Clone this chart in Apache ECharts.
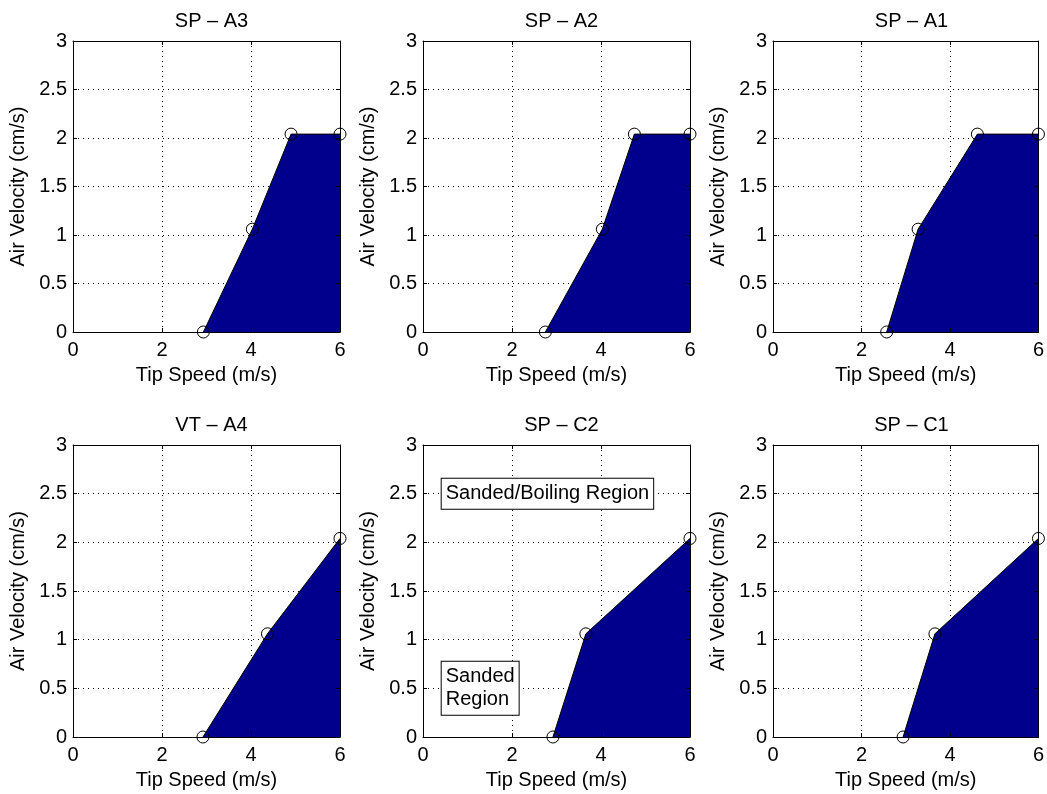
<!DOCTYPE html>
<html>
<head>
<meta charset="utf-8">
<script src="https://cdn.jsdelivr.net/npm/echarts@6/dist/echarts.min.js"></script>
<style>
  html, body { margin: 0; padding: 0; background: #fff; }
  #chart { width: 1047px; height: 794px; }
</style>
</head>
<body>
<div id="chart"></div>
<script>
// Panel titles, in reading order (row by row)
const panelTitles = ['SP \u2013 A3', 'SP \u2013 A2', 'SP \u2013 A1', 'VT \u2013 A4', 'SP \u2013 C2', 'SP \u2013 C1'];

// Boundary points: tip speed (m/s) and air velocity (cm/s)
const spA3Speed = [2.93, 4.03, 4.90, 6.00];
const spA3Air   = [0.00, 1.06, 2.04, 2.04];
const spA2Speed = [2.75, 4.03, 4.75, 6.00];
const spA2Air   = [0.00, 1.06, 2.04, 2.04];
const spA1Speed = [2.57, 3.28, 4.62, 6.00];
const spA1Air   = [0.00, 1.06, 2.04, 2.04];
const vtA4Speed = [2.92, 4.37, 6.00];
const vtA4Air   = [0.00, 1.06, 2.04];
const spC2Speed = [2.92, 3.66, 6.00];
const spC2Air   = [0.00, 1.06, 2.04];
const spC1Speed = [2.94, 3.66, 6.00];
const spC1Air   = [0.00, 1.06, 2.04];

const panelSpeeds = [spA3Speed, spA2Speed, spA1Speed, vtA4Speed, spC2Speed, spC1Speed];
const panelAirs   = [spA3Air, spA2Air, spA1Air, vtA4Air, spC2Air, spC1Air];

// Axis ranges and labels
const xRange = [0, 6], xStep = 2;
const yRange = [0, 3], yStep = 0.5;
const xName = 'Tip Speed (m/s)';
const yName = 'Air Velocity (cm/s)';

// Region annotations on the SP – C2 panel
const annotationPanel = 4;
const annotationTexts = ['Sanded/Boiling Region', 'Sanded\nRegion'];
const annotationX = [0.42, 0.42];
const annotationY = [2.5, 0.5];

const FONT = 'Liberation Sans, Arial, Helvetica, sans-serif';
const FS = 20;
const FILL = '#00008c';

const colLeft = [73, 423, 773];
const rowTop = [41, 445];
const plotW = 267;
const plotH = [291, 292];

const grids = [], xAxes = [], yAxes = [], series = [], titles = [];

panelTitles.forEach((t, i) => {
  const r = Math.floor(i / 3), c = i % 3;
  grids.push({
    left: colLeft[c], top: rowTop[r], width: plotW, height: plotH[r],
    show: true, backgroundColor: '#fff', borderWidth: 0
  });
  titles.push({
    text: t, left: colLeft[c] + plotW / 2, top: rowTop[r] - 35, textAlign: 'center',
    textStyle: { fontFamily: FONT, fontSize: FS, fontWeight: 'normal', color: '#000' }
  });
  const tick = { show: true, inside: true, length: 4, lineStyle: { color: '#000', width: 1 } };
  const line = { show: true, onZero: false, lineStyle: { color: '#000', width: 1 } };
  const dotted = { show: true, lineStyle: { color: '#000', width: 1, type: [1, 4] } };
  // bottom axis: labels + name, drawn above the filled region
  xAxes.push({
    gridIndex: i, type: 'value', position: 'bottom', min: xRange[0], max: xRange[1], interval: xStep,
    z: 5, axisLine: line, axisTick: tick, splitLine: { show: false },
    axisLabel: { fontFamily: FONT, fontSize: FS, color: '#000', margin: 8 },
    name: xName, nameLocation: 'middle', nameGap: 33,
    nameTextStyle: { fontFamily: FONT, fontSize: FS, color: '#000' }
  });
  // top axis: box edge and vertical dotted grid, drawn beneath the fill
  xAxes.push({
    gridIndex: i, type: 'value', position: 'top', min: xRange[0], max: xRange[1], interval: xStep,
    z: 0, axisLine: line, axisTick: tick, axisLabel: { show: false }, splitLine: dotted
  });
  // left axis: labels + name + horizontal dotted grid
  yAxes.push({
    gridIndex: i, type: 'value', position: 'left', min: yRange[0], max: yRange[1], interval: yStep,
    z: 0, axisLine: line, axisTick: tick, splitLine: dotted,
    axisLabel: { fontFamily: FONT, fontSize: FS, color: '#000', margin: 6 },
    name: yName, nameLocation: 'middle', nameGap: 45, nameRotate: 90,
    nameTextStyle: { fontFamily: FONT, fontSize: FS, color: '#000' }
  });
  // right axis: box edge over the fill
  yAxes.push({
    gridIndex: i, type: 'value', position: 'right', min: yRange[0], max: yRange[1], interval: yStep,
    z: 5, axisLine: line, axisTick: tick, axisLabel: { show: false }, splitLine: { show: false }
  });

  const pts = panelSpeeds[i].map((s, k) => [s, panelAirs[i][k]]);
  series.push({
    type: 'line', xAxisIndex: 2 * i, yAxisIndex: 2 * i, data: pts,
    z: 3, silent: true, animation: false,
    lineStyle: { color: '#000', width: 1 },
    areaStyle: { color: FILL, opacity: 1, origin: 'start' },
    symbol: 'circle', symbolSize: 12, showAllSymbol: true,
    itemStyle: { color: 'rgba(0,0,0,0)', borderColor: '#000', borderWidth: 1 }
  });
});

// text boxes marking the regions
series.push({
  type: 'scatter', xAxisIndex: 2 * annotationPanel, yAxisIndex: 2 * annotationPanel,
  z: 6, silent: true, animation: false, symbolSize: 0,
  itemStyle: { opacity: 1 },
  data: annotationTexts.map((t, k) => ({
    value: [annotationX[k], annotationY[k]],
    label: {
      show: true, position: 'right', distance: 0, formatter: t, align: 'left',
      fontFamily: FONT, fontSize: FS, color: '#000', opacity: 1, lineHeight: 23,
      backgroundColor: '#fff', borderColor: '#000', borderWidth: 1,
      padding: k === 0 ? [4, 4, 3, 4] : [4, 4, 3, 4]
    }
  }))
});

const chart = echarts.init(document.getElementById('chart'), null, { renderer: 'canvas' });
chart.setOption({
  backgroundColor: '#fff',
  animation: false,
  title: titles,
  grid: grids,
  xAxis: xAxes,
  yAxis: yAxes,
  series: series
});
</script>
</body>
</html>
